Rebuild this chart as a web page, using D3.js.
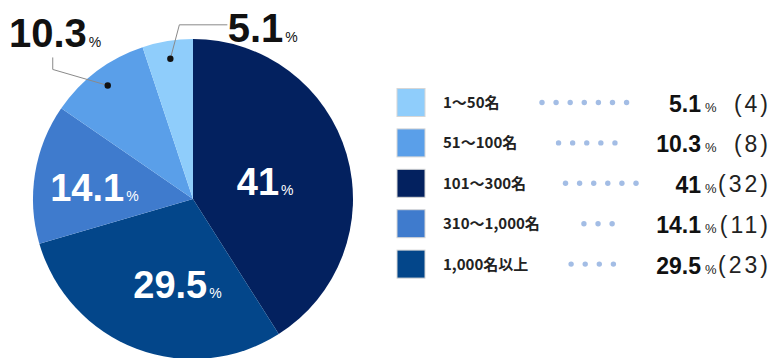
<!DOCTYPE html>
<html>
<head>
<meta charset="utf-8">
<script src="https://cdn.jsdelivr.net/npm/d3@7"></script>
<style>
  html, body { margin: 0; padding: 0; background: #fff; }
  svg { display: block; }
</style>
</head>
<body>
<svg id="chart" width="773" height="358"></svg>
<script>
// Company-size breakdown: share (%) and number of responses per group
const categories = ["1〜50名", "51〜100名", "101〜300名", "310〜1,000名", "1,000名以上"];
const percents   = [5.1, 10.3, 41, 14.1, 29.5];
const counts     = [4, 8, 32, 11, 23];
const colors     = ["#8fcdfb", "#5a9fe9", "#03215f", "#3f7bcd", "#03468a"];
// order of the slices, clockwise from 12 o'clock
const pieOrder   = [2, 4, 3, 1, 0];
// number of leader dots between legend label and value
const leaderDots = [7, 5, 6, 3, 4];

const NUM_FONT = "'Liberation Sans', Arial, Helvetica, sans-serif";
const JP_FONT  = "'Noto Sans CJK JP', 'Noto Sans', sans-serif";

const svg = d3.select("#chart");

// ---------- pie ----------
const cx = 193, cy = 199, R = 160;
const g = svg.append("g").attr("transform", `translate(${cx},${cy})`);

const pie = d3.pie().sort(null).value(i => percents[i]);
const arcs = pie(pieOrder);
const arc = d3.arc().innerRadius(0).outerRadius(R);

g.selectAll("path.slice")
  .data(arcs)
  .join("path")
  .attr("class", "slice")
  .attr("d", arc)
  .attr("fill", d => colors[d.data]);

// label placement: inside labels sit near the slice centroid (with a small nudge),
// outside labels hang off a leader line that starts at a dot inside the slice
const insideArc = d3.arc().innerRadius(87).outerRadius(87);
const dotArc = d3.arc().innerRadius(142).outerRadius(142);
const insideNudge = { 2: [2.5, 7], 4: [45, 4], 3: [17, 2] };
const outsideLeader = {
  1: { elbow: [-55, -16], end: [0, -12], label: [34, -10] },
  0: { elbow: [9, -34], end: [48, 0], label: [56, 17] }
};

function drawValue(parent, x, y, idx, color, numSize, pctSize) {
  parent.append("text")
    .attr("x", x).attr("y", y)
    .attr("text-anchor", "end")
    .attr("font-family", NUM_FONT)
    .attr("font-weight", "bold")
    .attr("font-size", numSize)
    .attr("fill", color)
    .text(String(percents[idx]));
  parent.append("text")
    .attr("x", x + 2).attr("y", y)
    .attr("font-family", NUM_FONT)
    .attr("font-size", pctSize)
    .attr("fill", color)
    .text("%");
}

arcs.forEach(a => {
  const idx = a.data;
  if (insideNudge[idx]) {
    const [px, py] = insideArc.centroid(a);
    const [nx, ny] = insideNudge[idx];
    drawValue(g, px + nx, py + ny + 13.5, idx, "#ffffff", 38, 14);
  } else if (outsideLeader[idx]) {
    const L = outsideLeader[idx];
    const [dx, dy] = dotArc.centroid(a);
    const ex = dx + L.elbow[0], ey = dy + L.elbow[1];
    const tx = ex + L.end[0], ty = ey + L.end[1];
    g.append("path")
      .attr("d", d3.line()([[dx, dy], [ex, ey], [tx, ty]]))
      .attr("fill", "none")
      .attr("stroke", "#8a8a8a")
      .attr("stroke-width", 1);
    g.append("circle")
      .attr("cx", dx).attr("cy", dy).attr("r", 3.2)
      .attr("fill", "#111");
    drawValue(g, tx + L.label[0], ty + L.label[1], idx, "#111111", 40, 14);
  }
});

// ---------- legend ----------
const rowY = d3.scaleLinear().domain([0, 1]).range([102.5, 142.9]);
const legend = svg.append("g");
const sq = 28, sqX = 397, labelX = 443, numRight = 701, parenRight = 771;

categories.forEach((cat, i) => {
  const y = rowY(i);
  const row = legend.append("g");
  row.append("rect")
    .attr("x", sqX).attr("y", y - sq / 2)
    .attr("width", sq).attr("height", sq)
    .attr("fill", colors[i])
    .attr("stroke", "#d6d6d6").attr("stroke-width", 1);
  const lab = row.append("text")
    .attr("x", labelX).attr("y", y + 5.5)
    .attr("font-family", JP_FONT)
    .attr("font-weight", "bold")
    .attr("font-size", 15)
    .attr("fill", "#222")
    .text(cat);
  const num = row.append("text")
    .attr("x", numRight).attr("y", y + 9.5)
    .attr("text-anchor", "end")
    .attr("font-family", NUM_FONT)
    .attr("font-weight", "bold")
    .attr("font-size", 23)
    .attr("fill", "#111")
    .text(String(percents[i]));
  row.append("text")
    .attr("x", numRight + 4).attr("y", y + 9.5)
    .attr("font-family", NUM_FONT)
    .attr("font-size", 13)
    .attr("fill", "#222")
    .text("%");
  row.append("text")
    .attr("x", parenRight).attr("y", y + 9)
    .attr("text-anchor", "end")
    .attr("font-family", NUM_FONT)
    .attr("font-size", 23)
    .attr("letter-spacing", 3)
    .attr("fill", "#222")
    .text(`(${counts[i]})`);

  // dotted leader centred between the label and the value
  const labEnd = labelX + lab.node().getComputedTextLength();
  const numStart = numRight - num.node().getComputedTextLength();
  const mid = (labEnd + numStart) / 2;
  const n = leaderDots[i], step = 14.1;
  const dots = d3.range(n).map(k => mid + (k - (n - 1) / 2) * step);
  row.selectAll("circle")
    .data(dots)
    .join("circle")
    .attr("cx", d => d).attr("cy", y)
    .attr("r", 2.7)
    .attr("fill", "#a3bde5");
});
</script>
</body>
</html>
